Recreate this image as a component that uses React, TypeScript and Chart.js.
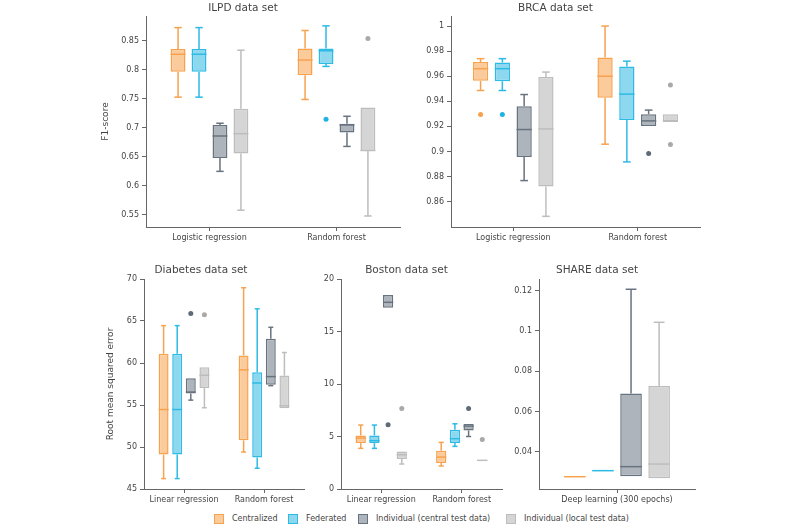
import React, { useEffect, useRef } from "react";
import { Chart, registerables } from "chart.js";

Chart.register(...registerables);
Chart.defaults.font.family = "'DejaVu Sans', Verdana, sans-serif";

// ---------- DATA ----------
// each box: [min, q1, median, q3, max]
const seriesNames = ["Centralized", "Federated", "Individual (central test data)", "Individual (local test data)"];
const lineColors = ["#F7A24F", "#2DBAE5", "#67737F", "#BDBDBD"];
const fillColors = ["#FCCB9C", "#8ED8EF", "#AEB4BB", "#D5D5D5"];
const pointColors = ["#F7A24F", "#1FB3E1", "#5D6B79", "#A9A9A9"];

const ilpdCategories = ["Logistic regression", "Random forest"];
const ilpdTicks = [0.55, 0.6, 0.65, 0.7, 0.75, 0.8, 0.85];
const ilpdCentralized = [[0.753, 0.797, 0.827, 0.836, 0.873], [0.749, 0.791, 0.817, 0.837, 0.868]];
const ilpdFederated = [[0.753, 0.797, 0.827, 0.836, 0.873], [0.806, 0.810, 0.833, 0.837, 0.876]];
const ilpdIndCentral = [[0.625, 0.648, 0.686, 0.705, 0.708], [0.668, 0.692, 0.705, 0.707, 0.720]];
const ilpdIndLocal = [[0.558, 0.656, 0.690, 0.733, 0.834], [0.548, 0.660, 0.661, 0.735, 0.735]];
const ilpdOutCentralized = [[], []];
const ilpdOutFederated = [[], [0.715]];
const ilpdOutIndCentral = [[], []];
const ilpdOutIndLocal = [[], [0.854]];

const brcaCategories = ["Logistic regression", "Random forest"];
const brcaTicks = [0.86, 0.88, 0.9, 0.92, 0.94, 0.96, 0.98, 1];
const brcaCentralized = [[0.9486, 0.9563, 0.966, 0.9713, 0.974], [0.9058, 0.9428, 0.96, 0.975, 1.0]];
const brcaFederated = [[0.9486, 0.956, 0.966, 0.971, 0.974], [0.8917, 0.925, 0.9457, 0.9678, 0.972]];
const brcaIndCentral = [[0.8768, 0.8957, 0.9175, 0.936, 0.9454], [0.9204, 0.9204, 0.9244, 0.9297, 0.933]];
const brcaIndLocal = [[0.8483, 0.872, 0.918, 0.9593, 0.9633], [0.9236, 0.9236, 0.9245, 0.9297, 0.9297]];
const brcaOutCentralized = [[0.9295], []];
const brcaOutFederated = [[0.9295], []];
const brcaOutIndCentral = [[], [0.8983]];
const brcaOutIndLocal = [[], [0.9529, 0.9055]];

const diabetesCategories = ["Linear regression", "Random forest"];
const diabetesTicks = [45, 50, 55, 60, 65, 70];
const diabetesCentralized = [[46.24, 49.1, 54.46, 61.1, 64.45], [49.4, 50.79, 59.18, 60.9, 68.96]];
const diabetesFederated = [[46.24, 49.1, 54.46, 61.1, 64.45], [47.47, 48.75, 57.62, 58.9, 66.45]];
const diabetesIndCentral = [[55.58, 56.38, 56.54, 58.18, 58.18], [57.3, 57.42, 58.38, 62.89, 64.25]];
const diabetesIndLocal = [[54.67, 57.02, 58.54, 59.5, 59.5], [54.62, 54.62, 54.9, 58.5, 61.25]];
const diabetesOutCentralized = [[], []];
const diabetesOutFederated = [[], []];
const diabetesOutIndCentral = [[65.89], []];
const diabetesOutIndLocal = [[65.73], []];

const bostonCategories = ["Linear regression", "Random forest"];
const bostonTicks = [0, 5, 10, 15, 20];
const bostonCentralized = [[3.87, 4.37, 4.85, 5.1, 6.09], [2.19, 2.47, 3.04, 3.64, 4.44]];
const bostonFederated = [[3.87, 4.37, 4.6, 5.1, 6.09], [4.06, 4.37, 4.79, 5.64, 6.21]];
const bostonIndCentral = [[17.27, 17.27, 17.78, 18.48, 18.48], [5.0, 5.58, 5.99, 6.18, 6.18]];
const bostonIndLocal = [[2.38, 2.85, 3.26, 3.58, 3.58], [2.7, 2.7, 2.73, 2.76, 2.76]];
const bostonOutCentralized = [[], []];
const bostonOutFederated = [[], []];
const bostonOutIndCentral = [[6.12], [7.67]];
const bostonOutIndLocal = [[7.67], [4.72]];

const shareCategories = ["Deep learning (300 epochs)"];
const shareTicks = [0.04, 0.06, 0.08, 0.1, 0.12];
const shareCentralized = [[0.0276, 0.0276, 0.0276, 0.0276, 0.0276]];
const shareFederated = [[0.0306, 0.0306, 0.0306, 0.0306, 0.0306]];
const shareIndCentral = [[0.0278, 0.0278, 0.0326, 0.0689, 0.1207]];
const shareIndLocal = [[0.0268, 0.0268, 0.0339, 0.0726, 0.1043]];
const shareOut = [[]];

// ---------- PANELS ----------
interface Panel {
  title: string;
  categories: string[];
  ticks: number[];
  yMin: number;
  yMax: number;
  yTitle?: string;
  yTitlePad?: number;
  stats: number[][][];
  outliers: number[][][];
  left: number;
  top: number;
  width: number;
  height: number;
  yW: number;
  titlePadBottom: number;
  catPct: number;
  barPct: number;
}

const panels: Panel[] = [
  {
    title: "ILPD data set", categories: ilpdCategories, ticks: ilpdTicks, yMin: 0.529, yMax: 0.893,
    yTitle: "F1-score", yTitlePad: 14.6,
    stats: [ilpdCentralized, ilpdFederated, ilpdIndCentral, ilpdIndLocal],
    outliers: [ilpdOutCentralized, ilpdOutFederated, ilpdOutIndCentral, ilpdOutIndLocal],
    left: 86, top: 2, width: 316, height: 247, yW: 60, titlePadBottom: 1.4, catPct: 0.66, barPct: 0.71,
  },
  {
    title: "BRCA data set", categories: brcaCategories, ticks: brcaTicks, yMin: 0.8398, yMax: 1.008,
    stats: [brcaCentralized, brcaFederated, brcaIndCentral, brcaIndLocal],
    outliers: [brcaOutCentralized, brcaOutFederated, brcaOutIndCentral, brcaOutIndLocal],
    left: 411, top: 2, width: 291, height: 247, yW: 40, titlePadBottom: 1.4, catPct: 0.70, barPct: 0.70,
  },
  {
    title: "Diabetes data set", categories: diabetesCategories, ticks: diabetesTicks, yMin: 45, yMax: 70,
    yTitle: "Root mean squared error", yTitlePad: 7.6,
    stats: [diabetesCentralized, diabetesFederated, diabetesIndCentral, diabetesIndLocal],
    outliers: [diabetesOutCentralized, diabetesOutFederated, diabetesOutIndCentral, diabetesOutIndLocal],
    left: 98, top: 264, width: 208, height: 247, yW: 46, titlePadBottom: 2.4, catPct: 0.68, barPct: 0.73,
  },
  {
    title: "Boston data set", categories: bostonCategories, ticks: bostonTicks, yMin: 0, yMax: 20,
    stats: [bostonCentralized, bostonFederated, bostonIndCentral, bostonIndLocal],
    outliers: [bostonOutCentralized, bostonOutFederated, bostonOutIndCentral, bostonOutIndLocal],
    left: 311, top: 264, width: 193, height: 247, yW: 30, titlePadBottom: 2.4, catPct: 0.68, barPct: 0.75,
  },
  {
    title: "SHARE data set", categories: shareCategories, ticks: shareTicks, yMin: 0.0215, yMax: 0.1258,
    stats: [shareCentralized, shareFederated, shareIndCentral, shareIndLocal],
    outliers: [shareOut, shareOut, shareOut, shareOut],
    left: 499, top: 264, width: 198, height: 247, yW: 40, titlePadBottom: 2.4, catPct: 0.72, barPct: 0.77,
  },
];

const AXIS = "#666";
const TEXT = "#444";

const boxPlugin = {
  id: "boxWhiskers",
  afterDatasetsDraw(chart: any) {
    const ctx = chart.ctx;
    const ys = chart.scales.y;
    const yp = (v: number) => ys.getPixelForValue(v);
    chart.data.datasets.forEach((ds: any, i: number) => {
      const meta = chart.getDatasetMeta(i);
      meta.data.forEach((el: any, j: number) => {
        const s = ds.stats[j];
        if (!s) return;
        const { x, width } = el.getProps(["x", "width"], true);
        const [mn, q1, md, q3, mx] = s;
        const cap = width * 0.5;
        ctx.save();
        ctx.strokeStyle = ds.borderColor;
        ctx.lineWidth = 1.5;
        const line = (x1: number, y1: number, x2: number, y2: number) => {
          ctx.beginPath();
          ctx.moveTo(x1, y1);
          ctx.lineTo(x2, y2);
          ctx.stroke();
        };
        if (mx > q3) {
          line(x, yp(q3), x, yp(mx));
          line(x - cap / 2, yp(mx), x + cap / 2, yp(mx));
        }
        if (mn < q1) {
          line(x, yp(q1), x, yp(mn));
          line(x - cap / 2, yp(mn), x + cap / 2, yp(mn));
        }
        line(x - width / 2, yp(md), x + width / 2, yp(md));
        ctx.fillStyle = ds.pointColor;
        (ds.outliers[j] || []).forEach((v: number) => {
          ctx.beginPath();
          ctx.arc(x, yp(v), 2.5, 0, Math.PI * 2);
          ctx.fill();
        });
        ctx.restore();
      });
    });
  },
};

function BoxPanel({ p }: { p: Panel }) {
  const ref = useRef<HTMLCanvasElement>(null);
  useEffect(() => {
    if (!ref.current) return;
    const chart = new Chart(ref.current, {
      type: "bar",
      data: {
        labels: p.categories,
        datasets: p.stats.map((st, i) => ({
          label: seriesNames[i],
          data: st.map((s) => [s[1], s[3]]),
          stats: st,
          outliers: p.outliers[i],
          backgroundColor: fillColors[i],
          borderColor: lineColors[i],
          pointColor: pointColors[i],
          borderWidth: 1.5,
          borderSkipped: false,
          categoryPercentage: p.catPct,
          barPercentage: p.barPct,
        })) as any,
      },
      options: {
        animation: false,
        responsive: false,
        maintainAspectRatio: false,
        devicePixelRatio: 1,
        layout: { padding: { left: 0, right: 2, top: 0, bottom: 0 } },
        plugins: {
          legend: { display: false },
          tooltip: { enabled: false },
          title: {
            display: true,
            text: p.title,
            color: TEXT,
            font: { size: 10.5, weight: "normal" as any, lineHeight: 1.2 },
            padding: { top: 0, bottom: p.titlePadBottom },
          },
        },
        scales: {
          x: {
            type: "category",
            offset: true,
            grid: { display: true, drawOnChartArea: false, offset: false, tickLength: 4, color: AXIS },
            border: { display: true, color: AXIS, width: 1 },
            ticks: { color: TEXT, font: { size: 8 }, padding: 2, maxRotation: 0, autoSkip: false },
            afterFit: (s: any) => { s.height = 22; },
          },
          y: {
            type: "linear",
            min: p.yMin,
            max: p.yMax,
            afterBuildTicks: (s: any) => { s.ticks = p.ticks.map((v) => ({ value: v })); },
            grid: { display: true, drawOnChartArea: false, tickLength: 4, color: AXIS },
            border: { display: true, color: AXIS, width: 1 },
            ticks: { color: TEXT, font: { size: 8 }, padding: 3, callback: (v: any) => String(v) },
            title: p.yTitle
              ? { display: true, text: p.yTitle, color: TEXT, font: { size: 9 }, padding: { top: p.yTitlePad || 0, bottom: 0 } }
              : { display: false },
            afterFit: (s: any) => { s.width = p.yW; },
          },
        },
      } as any,
      plugins: [boxPlugin],
    });
    return () => chart.destroy();
  }, [p]);
  return (
    <canvas
      ref={ref}
      width={p.width}
      height={p.height}
      style={{ position: "absolute", left: p.left, top: p.top, width: p.width, height: p.height }}
    />
  );
}

const legendSquareX = [214, 288, 358, 506];
const legendTextX = [232, 306, 376, 524];

export default function App() {
  return (
    <div style={{ position: "absolute", left: 0, top: 0, width: 800, height: 529, background: "#fff", overflow: "hidden" }}>
      {panels.map((p, i) => (
        <BoxPanel key={i} p={p} />
      ))}
      {seriesNames.map((n, i) => (
        <React.Fragment key={n}>
          <div
            style={{
              position: "absolute", left: legendSquareX[i], top: 514, width: 10, height: 10,
              boxSizing: "border-box", background: fillColors[i], border: `1.5px solid ${lineColors[i]}`,
            }}
          />
          <div
            style={{
              position: "absolute", left: legendTextX[i], top: 513, fontFamily: "'DejaVu Sans', Verdana, sans-serif",
              fontSize: 8, lineHeight: "12px", color: TEXT, whiteSpace: "nowrap",
            }}
          >
            {n}
          </div>
        </React.Fragment>
      ))}
    </div>
  );
}
